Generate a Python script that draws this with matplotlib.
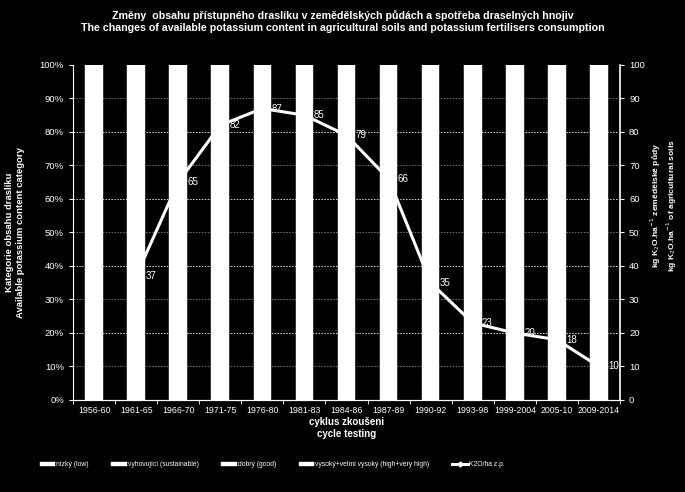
import numpy as np
import matplotlib.pyplot as plt

plt.rcParams["font.family"] = ["Liberation Sans", "DejaVu Sans"]

cycles = ["1956-60", "1961-65", "1966-70", "1971-75", "1976-80", "1981-83", "1984-86",
          "1987-89", "1990-92", "1993-98", "1999-2004", "2005-10", "2009-2014"]

# soil category shares (%), every bar is drawn white so only the 100 % total shows
low = [30, 28, 22, 16, 12, 10, 9, 8, 7, 8, 9, 10, 10]
sustainable = [35, 34, 32, 30, 28, 26, 25, 24, 24, 25, 27, 28, 29]
good = [25, 26, 30, 33, 35, 36, 36, 37, 37, 36, 35, 34, 34]
high = [10, 12, 16, 21, 25, 28, 30, 31, 32, 31, 29, 28, 27]

k2o = [None, 37, 65, 82, 87, 85, 79, 66, 35, 23, 20, 18, 10]

fig = plt.figure(figsize=(6.85, 4.92), dpi=100, facecolor="black")
ax = fig.add_axes([0.1066, 0.187, 0.7985, 0.681], facecolor="black")
ax2 = ax.twinx()

x = np.arange(len(cycles))
bottom = np.zeros(len(cycles))
series = [(low, "nízký (low)"), (sustainable, "vyhovující (sustainable)"),
          (good, "dobrý (good)"), (high, "vysoký+velmi vysoký (high+very high)")]
for vals, lab in series:
    ax.bar(x, vals, width=0.42, bottom=bottom, color="white", edgecolor="white",
           linewidth=0.3, label=lab, zorder=2)
    bottom += np.array(vals)

ax.set_xlim(-0.5, len(cycles) - 0.5)
ax.set_ylim(0, 100)
ax.set_yticks(np.arange(0, 101, 10))
ax.set_yticklabels([f"{v}%" for v in range(0, 101, 10)])
for v in range(10, 100, 10):
    col = "#dddddd" if v % 20 == 0 else "#777777"
    ax.axhline(v, color=col, linestyle=(0, (1.5, 1.5)), linewidth=0.7, zorder=1)

ax.set_xticks(x)
ax.set_xticklabels(cycles)
ax.set_xticks(np.arange(-0.5, len(cycles), 1), minor=True)
ax.tick_params(axis="x", which="major", length=0, colors="white", labelsize=6.3, pad=4)
ax.tick_params(axis="x", which="minor", length=3, color="white", direction="out")
ax.tick_params(axis="y", colors="white", labelsize=6.8, length=3, direction="out")

xs = [i for i, v in enumerate(k2o) if v is not None]
ys = [v for v in k2o if v is not None]
ax2.plot(xs, ys, color="white", linewidth=2.2, marker="D", markersize=2.5,
         label="K2O/ha z.p.", zorder=3)
for xi, yi in zip(xs, ys):
    ax2.text(xi + 0.22, yi, str(yi), color="white", fontsize=7, va="center", ha="left")
ax2.set_ylim(0, 100)
ax2.set_yticks(np.arange(0, 101, 10))
ax2.tick_params(axis="y", colors="white", labelsize=6.8, length=3, direction="out")

for a in (ax, ax2):
    for s in a.spines.values():
        s.set_visible(False)
    a.spines["bottom"].set_visible(True)
    a.spines["bottom"].set_color("white")
ax.spines["left"].set_visible(True)
ax.spines["left"].set_color("white")
ax2.spines["right"].set_visible(True)
ax2.spines["right"].set_color("white")
ax2.spines["right"].set_linewidth(1.2)

ax.set_xlabel("cyklus zkoušeni\ncycle testing", color="white", fontsize=7,
              fontweight="bold", labelpad=2, linespacing=1.2)
fig.text(0.022, 0.528, "Kategorie obsahu draslíku\nAvailable potassium content category",
         color="white", fontsize=6.8, fontweight="bold", rotation=90,
         ha="center", va="center", linespacing=1.2)
fig.text(0.969, 0.583, "kg K$_2$O.ha$^{-1}$ zemědělské půdy\nkg K$_2$O.ha$^{-1}$ of agricultural soils",
         color="white", fontsize=6.1, fontweight="bold", rotation=90,
         ha="center", va="center", linespacing=1.2)

fig.text(0.5, 0.98, "Změny  obsahu přístupného draslíku v zemědělských půdách a spotřeba draselných hnojiv\n"
         "The changes of available potassium content in agricultural soils and potassium fertilisers consumption",
         color="white", fontsize=7.7, fontweight="bold", ha="center", va="top", linespacing=1.3)

h1, l1 = ax.get_legend_handles_labels()
h2, l2 = ax2.get_legend_handles_labels()
leg = fig.legend(h1 + h2, l1 + l2, loc="center", bbox_to_anchor=(0.397, 0.055), ncol=5,
                 frameon=False, fontsize=4.9, labelcolor="white", handlelength=2.3,
                 handleheight=0.5, handletextpad=0.15, columnspacing=3.3)

fig.savefig("out.png", dpi=100, facecolor="black")
